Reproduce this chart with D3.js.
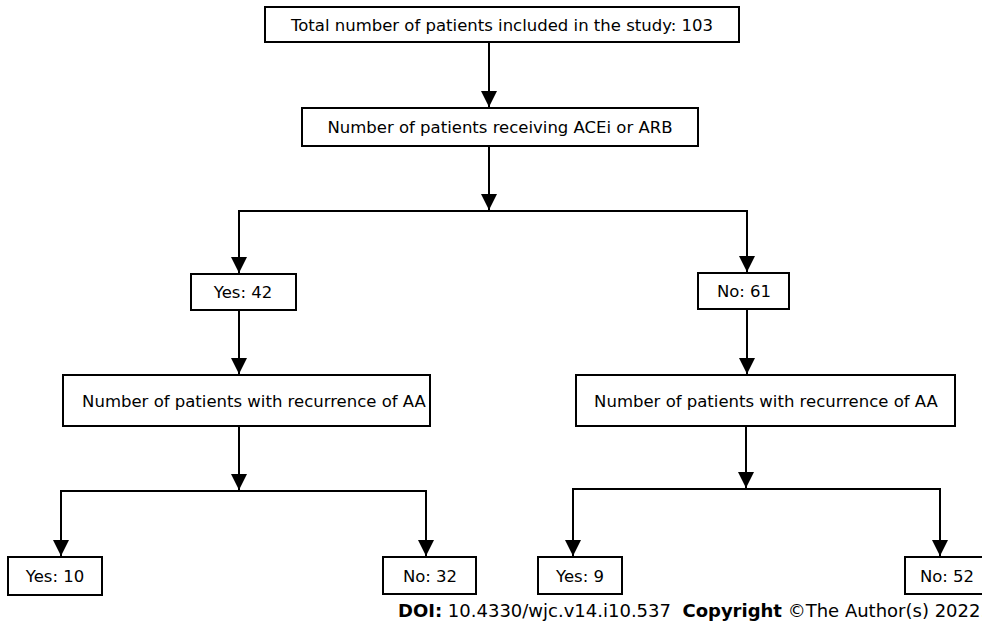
<!DOCTYPE html>
<html>
<head>
<meta charset="utf-8">
<script src="https://cdn.jsdelivr.net/npm/d3@7"></script>
<style>
  html, body { margin: 0; padding: 0; background: #fff; }
  svg { display: block; }
</style>
</head>
<body>
<svg id="chart" width="982" height="630"></svg>
<script>
// ---- data ----
const nodeIds = ["total", "acei", "yes42", "no61", "rec1", "rec2", "yes10", "no32", "yes9", "no52"];
const nodeLabels = [
  "Total number of patients included in the study: 103",
  "Number of patients receiving ACEi or ARB",
  "Yes: 42",
  "No: 61",
  "Number of patients with recurrence of AA",
  "Number of patients with recurrence of AA",
  "Yes: 10",
  "No: 32",
  "Yes: 9",
  "No: 52"
];
const nodeCounts = [103, null, 42, 61, null, null, 10, 32, 9, 52];
// parent -> children (split) relations
const splits = [
  { parent: "acei", children: ["yes42", "no61"] },
  { parent: "rec1", children: ["yes10", "no32"] },
  { parent: "rec2", children: ["yes9", "no52"] }
];
const straight = [["total", "acei"], ["yes42", "rec1"], ["no61", "rec2"]];
const footerParts = [
  { text: "DOI:", bold: true },
  { text: " 10.4330/wjc.v14.i10.537  ", bold: false },
  { text: "Copyright", bold: true },
  { text: " \u00A9The Author(s) 2022.", bold: false }
];

// ---- layout (positions in px) ----
const layout = {
  total: { x0: 265, x1: 739, y0: 7,   y1: 42,  tx: 502, ax: 489 },
  acei:  { x0: 302, x1: 698, y0: 108, y1: 146, tx: 500, ax: 489, splitY: 211 },
  yes42: { x0: 191, x1: 296, y0: 274, y1: 310, tx: 243, ax: 239 },
  no61:  { x0: 698, x1: 789, y0: 273, y1: 309, tx: 744, ax: 747 },
  rec1:  { x0: 63,  x1: 430, y0: 375, y1: 426, tx: 254, ax: 239, splitY: 491 },
  rec2:  { x0: 576, x1: 955, y0: 375, y1: 426, tx: 766, ax: 746, splitY: 489 },
  yes10: { x0: 8,   x1: 102, y0: 557, y1: 595, tx: 55,  ax: 61 },
  no32:  { x0: 383, x1: 476, y0: 557, y1: 594, tx: 430, ax: 426 },
  yes9:  { x0: 538, x1: 622, y0: 557, y1: 594, tx: 580, ax: 573 },
  no52:  { x0: 905, x1: 992, y0: 557, y1: 594, tx: 947, ax: 940 }
};

const x = d3.scaleIdentity();
const y = d3.scaleIdentity();

const svg = d3.select("#chart");
const boxFont = "'DejaVu Sans', Verdana, sans-serif";

svg.append("defs").append("marker")
  .attr("id", "arrow")
  .attr("markerUnits", "userSpaceOnUse")
  .attr("viewBox", "0 0 16 16")
  .attr("refX", 16).attr("refY", 8)
  .attr("markerWidth", 16).attr("markerHeight", 16)
  .attr("orient", "auto")
  .append("path")
  .attr("d", "M0,0 L16,8 L0,16 Z")
  .attr("fill", "#000");

const nodes = nodeIds.map((id, i) => ({ id, label: nodeLabels[i], count: nodeCounts[i], ...layout[id] }));
const byId = Object.fromEntries(nodes.map(n => [n.id, n]));

const lines = svg.append("g").attr("stroke", "#000").attr("stroke-width", 2).attr("fill", "none");

// straight arrows
straight.forEach(([a, b]) => {
  const p = byId[a], c = byId[b];
  lines.append("line")
    .attr("x1", x(p.ax)).attr("y1", y(p.y1))
    .attr("x2", x(p.ax)).attr("y2", y(c.y0 - 1))
    .attr("marker-end", "url(#arrow)");
});

// split arrows
splits.forEach(s => {
  const p = byId[s.parent];
  const kids = s.children.map(k => byId[k]);
  lines.append("line")
    .attr("x1", x(p.ax)).attr("y1", y(p.y1))
    .attr("x2", x(p.ax)).attr("y2", y(p.splitY - 1))
    .attr("marker-end", "url(#arrow)");
  lines.append("line")
    .attr("x1", x(kids[0].ax) - 1).attr("y1", y(p.splitY))
    .attr("x2", x(kids[1].ax) + 1).attr("y2", y(p.splitY));
  kids.forEach(k => {
    lines.append("line")
      .attr("x1", x(k.ax)).attr("y1", y(p.splitY))
      .attr("x2", x(k.ax)).attr("y2", y(k.y0 - 1))
      .attr("marker-end", "url(#arrow)");
  });
});

// boxes
const g = svg.append("g").selectAll("g").data(nodes).join("g");
g.append("rect")
  .attr("x", d => x(d.x0)).attr("y", d => y(d.y0))
  .attr("width", d => x(d.x1) - x(d.x0)).attr("height", d => y(d.y1) - y(d.y0))
  .attr("fill", "#fff").attr("stroke", "#000").attr("stroke-width", 2);
g.append("text")
  .attr("x", d => x(d.tx)).attr("y", d => y((d.y0 + d.y1) / 2) + 6)
  .attr("text-anchor", "middle")
  .attr("font-family", boxFont)
  .attr("font-size", 16.5)
  .attr("fill", "#000")
  .text(d => d.label);

// footer
const ft = svg.append("text")
  .attr("x", 398).attr("y", 617)
  .attr("font-family", "'DejaVu Sans', Verdana, sans-serif")
  .attr("font-size", 18)
  .attr("fill", "#000")
  .attr("xml:space", "preserve")
  .style("white-space", "pre");
ft.selectAll("tspan").data(footerParts).join("tspan")
  .attr("font-weight", d => d.bold ? "bold" : "normal")
  .text(d => d.text);
</script>
</body>
</html>
